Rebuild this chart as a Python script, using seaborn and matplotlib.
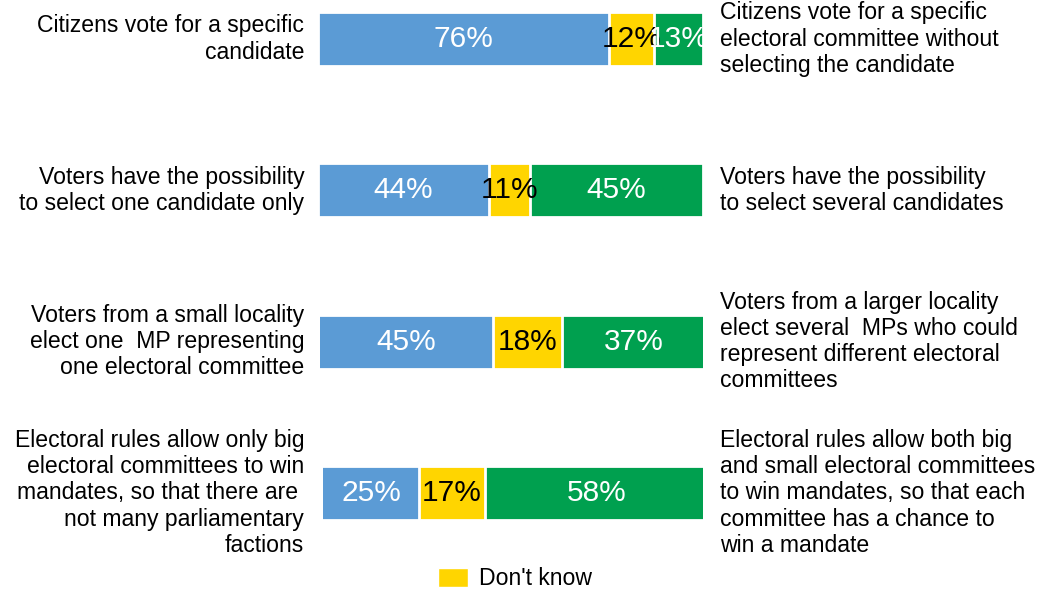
import numpy as np
import pandas as pd
import matplotlib.pyplot as plt
import seaborn as sns
from matplotlib.patches import Patch

# ── data ────────────────────────────────────────────────────
rows = ["r1", "r2", "r3", "r4"]
left_labels = [
    "Citizens vote for a specific\ncandidate",
    "Voters have the possibility\nto select one candidate only",
    "Voters from a small locality\nelect one  MP representing\none electoral committee",
    "Electoral rules allow only big\nelectoral committees to win\nmandates, so that there are \nnot many parliamentary\nfactions",
]
right_labels = [
    "Citizens vote for a specific\nelectoral committee without\nselecting the candidate",
    "Voters have the possibility\nto select several candidates",
    "Voters from a larger locality\nelect several  MPs who could\nrepresent different electoral\ncommittees",
    "Electoral rules allow both big\nand small electoral committees\nto win mandates, so that each\ncommittee has a chance to\nwin a mandate",
]
left_share = [75.6, 44.3, 45.0, 25.0]
dont_know = [11.7, 10.8, 18.0, 17.0]
right_share = [12.7, 44.9, 37.0, 58.0]
offset = [0.0, 0.0, 0.5, 1.3]

BLUE = "#5B9BD5"
YELLOW = "#FFD500"
GREEN = "#00A04F"

sns.set_style("white")
plt.rcParams["font.family"] = ["Liberation Sans", "DejaVu Sans"]
plt.rcParams["text.color"] = "black"

df = pd.DataFrame({"row": rows, "left": left_share, "dk": dont_know,
                   "right": right_share, "off": offset})
df["c_blue"] = df["off"] + df["left"]
df["c_dk"] = df["c_blue"] + df["dk"]
df["c_green"] = df["c_dk"] + df["right"]

fig = plt.figure(figsize=(10.46, 5.92), dpi=100)
ax = fig.add_axes([318 / 1046, 32 / 592, 385 / 1046, 560 / 592])

ppu = 151.3
top = 39
bar_w = 54 / ppu
common = dict(y="row", orient="h", width=bar_w, saturation=1, errorbar=None,
              edgecolor="white", linewidth=2, ax=ax)
sns.barplot(data=df, x="c_green", color=GREEN, **common)
sns.barplot(data=df, x="c_dk", color=YELLOW, **common)
sns.barplot(data=df, x="c_blue", color=BLUE, **common)
sns.barplot(data=df, x="off", color="white", y="row", orient="h", width=bar_w + 0.02,
            saturation=1, errorbar=None, linewidth=0, ax=ax)

ax.set_xlim(0, 100)
ax.set_ylim((560 - top) / ppu, -top / ppu)
ax.set_axis_off()

# percentage labels + side statements
for i, r in df.iterrows():
    segs = [(r["off"], r["left"], "white"),
            (r["c_blue"], r["dk"], "black"),
            (r["c_dk"], r["right"], "white")]
    for start, val, col in segs:
        ax.text(start + val / 2, i, f"{val:.0f}%", ha="center", va="center",
                color=col, fontsize=21.5)
    ax.text(-3.6, i, left_labels[i], ha="right", va="center", fontsize=16.6,
            linespacing=1.18, clip_on=False)
    ax.text(104.4, i, right_labels[i], ha="left", va="center", fontsize=16.6,
            linespacing=1.18, clip_on=False)

fig.legend(handles=[Patch(facecolor=YELLOW, label="Don't know")],
           loc="lower center", bbox_to_anchor=(515 / 1046, -0.032), frameon=False,
           fontsize=16.6, handlelength=1.3, handleheight=0.9, handletextpad=0.45)

fig.savefig("out.png", dpi=100)
